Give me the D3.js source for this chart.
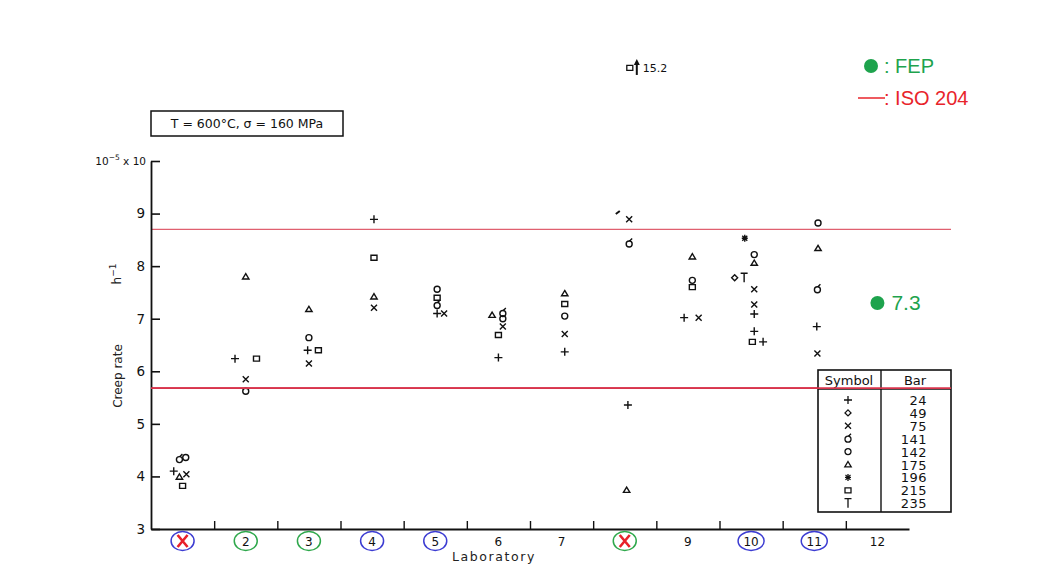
<!DOCTYPE html>
<html><head><meta charset="utf-8">
<script src="https://cdn.jsdelivr.net/npm/d3@7"></script>
<style>body{margin:0;background:#fff}svg{display:block}</style>
</head><body><svg id="c" width="1059" height="581"></svg>
<script>
// ---------- data ----------
const labs = [1,2,3,4,5,6,7,8,9,10,11,12];
const yTicks = [3,4,5,6,7,8,9,10];
const xBoundaries = [1.5,2.5,3.5,4.5,5.5,6.5,7.5,8.5,9.5,10.5,11.5];
const isoLimits = [8.70, 5.68];
const fepValue = 7.3;
const conditionText = "T = 600°C,  σ = 160 MPa";
// lab circle marks: colour of ring, crossed out
const labRingBlue = [1,4,5,10,11];
const labRingGreen = [2,3,8];
const labCrossed = [1,8];
// legend table
const legendSymbols = ["plus","diamond","times","delta","circle","triangle","asterisk","square","T"];
const legendBars = [24,49,75,141,142,175,196,215,235];
// points: [lab, offset within lab, symbol, creep rate (1e-5 /h)]
const lab1 = [[1,-0.14,"plus",4.10],[1,-0.05,"triangle",3.99],[1,0.06,"times",4.04],[1,0.0,"square",3.82],[1,-0.05,"delta",4.33],[1,0.05,"circle",4.36]];
const lab2 = [[2,0,"triangle",7.80],[2,-0.17,"plus",6.24],[2,0.17,"square",6.24],[2,0,"times",5.85],[2,0,"circle",5.62]];
const lab3 = [[3,0,"triangle",7.18],[3,0,"circle",6.64],[3,-0.02,"plus",6.40],[3,0.15,"square",6.40],[3,0,"times",6.15]];
const lab4 = [[4,0.03,"plus",8.89],[4,0.03,"square",8.16],[4,0.03,"triangle",7.42],[4,0.03,"times",7.21]];
const lab5 = [[5,0.03,"circle",7.56],[5,0.03,"square",7.40],[5,0.03,"delta",7.26],[5,0.03,"plus",7.10],[5,0.14,"times",7.10]];
const lab6 = [[6,-0.1,"triangle",7.07],[6,0.07,"delta",7.11],[6,0.07,"circle",7.00],[6,0.07,"times",6.85],[6,0,"square",6.69],[6,0,"plus",6.26]];
const lab7 = [[7,0.05,"triangle",7.48],[7,0.05,"square",7.28],[7,0.05,"circle",7.05],[7,0.05,"times",6.71],[7,0.05,"plus",6.37]];
const lab8 = [[8,-0.11,"slash",9.02],[8,0.07,"times",8.89],[8,0.07,"delta",8.43],[8,0.05,"plus",5.36],[8,0.03,"triangle",3.74]];
const lab9 = [[9,0.07,"triangle",8.18],[9,0.07,"circle",7.73],[9,0.07,"square",7.60],[9,-0.06,"plus",7.02],[9,0.17,"times",7.02]];
const lab10 = [[10,-0.1,"asterisk",8.53],[10,0.05,"circle",8.22],[10,0.05,"triangle",8.06],[10,-0.26,"diamond",7.78],[10,-0.11,"T",7.78],[10,0.05,"times",7.56],[10,0.05,"times",7.27],[10,0.05,"plus",7.09],[10,0.05,"plus",6.76],[10,0.02,"square",6.56],[10,0.19,"plus",6.56]];
const lab11 = [[11,0.06,"circle",8.82],[11,0.06,"triangle",8.34],[11,0.05,"delta",7.56],[11,0.04,"plus",6.85],[11,0.05,"times",6.34]];
// off-scale value of lab 8 (drawn at the top with an arrow)
const offScale = {lab:8, offset:0.08, symbol:"square", value:15.2, drawAt:11.77};
const points = [].concat(lab1,lab2,lab3,lab4,lab5,lab6,lab7,lab8,lab9,lab10,lab11);

// ---------- layout ----------
const svg = d3.select("#c");
const font = "DejaVu Sans, sans-serif";
const x = d3.scaleLinear().domain([0.5,12.5]).range([151,909]);
const y = d3.scaleLinear().domain([3,10]).range([529,161]);

// symbol glyphs
function glyph(name){
  const p = d3.path();
  switch(name){
    case "plus": p.moveTo(-4,0);p.lineTo(4,0);p.moveTo(0,-4);p.lineTo(0,4);break;
    case "times": p.moveTo(-3,-3);p.lineTo(3,3);p.moveTo(3,-3);p.lineTo(-3,3);break;
    case "circle": p.moveTo(3,0);p.arc(0,0,3,0,2*Math.PI);break;
    case "delta": p.moveTo(3,0.5);p.arc(0,0.5,3,0,2*Math.PI);p.moveTo(0.5,-2.5);p.lineTo(3,-5);break;
    case "square": p.rect(-3,-2.5,6,5);break;
    case "triangle": p.moveTo(0,-3);p.lineTo(3.2,2.3);p.lineTo(-3.2,2.3);p.closePath();break;
    case "diamond": p.moveTo(0,-3);p.lineTo(3,0);p.lineTo(0,3);p.lineTo(-3,0);p.closePath();break;
    case "asterisk": p.moveTo(-3,0);p.lineTo(3,0);p.moveTo(0,-3.5);p.lineTo(0,3.5);p.moveTo(-2.5,-2.5);p.lineTo(2.5,2.5);p.moveTo(2.5,-2.5);p.lineTo(-2.5,2.5);break;
    case "T": p.moveTo(-3.5,-4.5);p.lineTo(3.5,-4.5);p.moveTo(0,-4.5);p.lineTo(0,4.5);break;
    case "slash": p.moveTo(-2,1.5);p.lineTo(2,-1.5);break;
  }
  return p.toString();
}

// ISO limits
svg.selectAll("line.iso").data(isoLimits).join("line")
  .attr("x1",x(0.5)).attr("x2",951).attr("y1",d=>y(d)).attr("y2",d=>y(d))
  .attr("stroke",(d,i)=>i===0?"#e0606f":"#d8344c").attr("stroke-width",(d,i)=>i===0?1.3:1.6);

// y axis
const yAxis = d3.axisLeft(y).tickValues(yTicks).tickSize(-9).tickSizeOuter(0).tickPadding(6)
  .tickFormat(d=>d===10?"":d);
const gy = svg.append("g").attr("transform",`translate(${x(0.5)},0)`).call(yAxis);
gy.select(".domain").attr("stroke","#111").attr("stroke-width",1.8);
gy.selectAll(".tick line").attr("stroke","#111").attr("stroke-width",1.6);
gy.selectAll(".tick text").attr("font-family",font).attr("font-size",13.5).attr("fill","#111");
const t10 = svg.append("text").attr("x",x(0.5)-5).attr("y",y(10)+4).attr("text-anchor","end")
  .attr("font-family",font).attr("font-size",10.5).attr("fill","#111");
t10.append("tspan").text("10");
t10.append("tspan").attr("dy",-5).attr("font-size",7.5).text("−5");
t10.append("tspan").attr("dy",5).text(" x 10");

// x axis
const xAxis = d3.axisBottom(x).tickValues(xBoundaries).tickSize(-8).tickSizeOuter(0).tickFormat("");
const gx = svg.append("g").attr("transform",`translate(0,${y(3)})`).call(xAxis);
gx.select(".domain").attr("stroke","#111").attr("stroke-width",1.8);
gx.selectAll(".tick line").attr("stroke","#111").attr("stroke-width",1.4);

// lab labels
const labY = 541;
svg.selectAll("ellipse.ring").data(labs.filter(l=>labRingBlue.includes(l)||labRingGreen.includes(l))).join("ellipse")
  .attr("cx",d=>x(d)).attr("cy",labY).attr("rx",d=>d>=10?13:11.5).attr("ry",9.5)
  .attr("fill","none").attr("stroke",d=>labRingBlue.includes(d)?"#3c3cd2":"#2fa84c").attr("stroke-width",1.5);
svg.selectAll("text.lab").data(labs.filter(l=>!labCrossed.includes(l))).join("text")
  .attr("x",d=>x(d)).attr("y",labY+4.5).attr("text-anchor","middle")
  .attr("font-family",font).attr("font-size",12).attr("fill","#111").text(d=>d);
svg.selectAll("path.cross").data(labCrossed).join("path")
  .attr("transform",d=>`translate(${x(d)},${labY})`)
  .attr("d","M-5,-6L5,6M5,-6L-5,6").attr("stroke","#e8202a").attr("stroke-width",2.6).attr("fill","none");
svg.append("text").attr("x",494).attr("y",561).attr("text-anchor","middle")
  .attr("font-family",font).attr("font-size",12.5).attr("letter-spacing",1.6).attr("fill","#222").text("Laboratory");

// y titles
svg.append("text").attr("transform","translate(122,376) rotate(-90)").attr("text-anchor","middle")
  .attr("font-family",font).attr("font-size",12).attr("fill","#222").text("Creep rate");
const hT = svg.append("text").attr("transform","translate(121,274) rotate(-90)").attr("text-anchor","middle")
  .attr("font-family",font).attr("font-size",12).attr("fill","#222");
hT.append("tspan").text("h");
hT.append("tspan").attr("dy",-5).attr("font-size",9).text("−1");

// condition box
svg.append("rect").attr("x",151).attr("y",111).attr("width",192).attr("height",25)
  .attr("fill","none").attr("stroke","#111").attr("stroke-width",1.5);
svg.append("text").attr("x",247).attr("y",128).attr("text-anchor","middle")
  .attr("font-family",font).attr("font-size",12.5).attr("fill","#111").text(conditionText);

// points
svg.selectAll("path.pt").data(points).join("path")
  .attr("transform",d=>`translate(${x(d[0]+d[1])},${y(d[3])})`)
  .attr("d",d=>glyph(d[2])).attr("fill","none").attr("stroke","#111")
  .attr("stroke-width",d=>d[2]==="slash"?2:1.4);

// off-scale point
const ox = x(offScale.lab+offScale.offset), oy = y(offScale.drawAt);
svg.append("path").attr("transform",`translate(${ox},${oy})`).attr("d",glyph(offScale.symbol))
  .attr("fill","none").attr("stroke","#111").attr("stroke-width",1.3);
svg.append("line").attr("x1",ox+7).attr("x2",ox+7).attr("y1",oy+7).attr("y2",oy-6).attr("stroke","#111").attr("stroke-width",2);
svg.append("path").attr("d",`M${ox+4},${oy-3}L${ox+7},${oy-9}L${ox+10},${oy-3}Z`).attr("fill","#111");
svg.append("text").attr("x",ox+13).attr("y",oy+4).attr("font-family",font).attr("font-size",11).attr("fill","#111").text(offScale.value);

// FEP point
svg.append("circle").attr("cx",x(12)).attr("cy",y(fepValue)).attr("r",7).attr("fill","#1ea34d");
svg.append("text").attr("x",x(12)+14).attr("y",y(fepValue)+7.5).attr("font-family","Liberation Sans, Arial, sans-serif")
  .attr("font-size",21).attr("fill","#1ea34d").text(fepValue);

// top-right legend
svg.append("circle").attr("cx",871).attr("cy",66).attr("r",7).attr("fill","#1ea34d");
svg.append("text").attr("x",884).attr("y",73).attr("font-family","Liberation Sans, Arial, sans-serif")
  .attr("font-size",20).attr("fill","#1ea34d").text(": FEP");
svg.append("line").attr("x1",858).attr("x2",885).attr("y1",98).attr("y2",98).attr("stroke","#e8242b").attr("stroke-width",1.5);
svg.append("text").attr("x",884).attr("y",105).attr("font-family","Liberation Sans, Arial, sans-serif")
  .attr("font-size",20).attr("fill","#e8242b").text(": ISO 204");

// symbol/bar table
const tb = svg.append("g");
tb.append("rect").attr("x",818).attr("y",370).attr("width",133).attr("height",142).attr("fill","#fff").attr("stroke","#111").attr("stroke-width",1.6);
tb.append("line").attr("x1",881).attr("x2",881).attr("y1",370).attr("y2",512).attr("stroke","#111").attr("stroke-width",1.4);
tb.append("line").attr("x1",818).attr("x2",951).attr("y1",389).attr("y2",389).attr("stroke","#111").attr("stroke-width",1.4);
tb.append("text").attr("x",849).attr("y",385).attr("text-anchor","middle").attr("font-family",font).attr("font-size",13).attr("fill","#111").text("Symbol");
tb.append("text").attr("x",915).attr("y",385).attr("text-anchor","middle").attr("font-family",font).attr("font-size",13).attr("fill","#111").text("Bar");
const rowY = i => 400 + i*12.9;
tb.selectAll("path.ls").data(legendSymbols).join("path")
  .attr("transform",(d,i)=>`translate(848,${rowY(i)})`)
  .attr("d",d=>glyph(d)).attr("fill","none").attr("stroke","#111").attr("stroke-width",1.3);
tb.selectAll("text.lb").data(legendBars).join("text")
  .attr("x",927).attr("y",(d,i)=>rowY(i)+5).attr("text-anchor","end")
  .attr("font-family",font).attr("font-size",13).attr("letter-spacing",0.5).attr("fill","#111").text(d=>d);
// lower ISO line drawn over the table header, as in the reference
svg.append("line").attr("x1",x(0.5)).attr("x2",951).attr("y1",y(isoLimits[1])).attr("y2",y(isoLimits[1]))
  .attr("stroke","#d8344c").attr("stroke-width",1.6);
</script></body></html>
